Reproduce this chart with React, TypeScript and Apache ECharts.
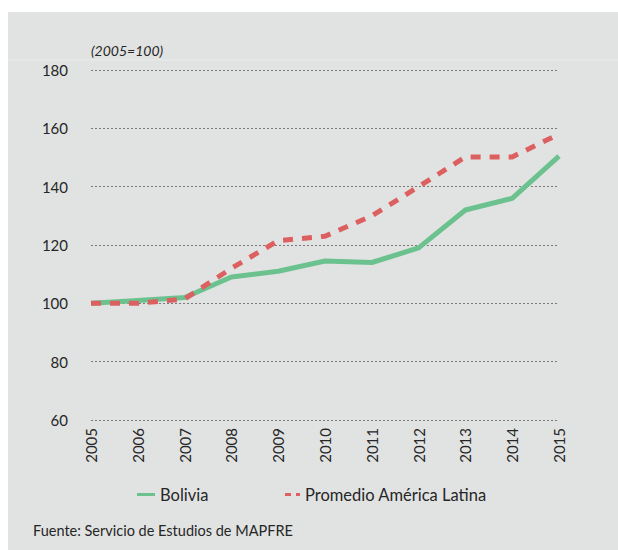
import React, { useEffect, useRef } from "react";
import * as echarts from "echarts";

const years = ["2005", "2006", "2007", "2008", "2009", "2010", "2011", "2012", "2013", "2014", "2015"];
const bolivia = [100, 101, 102, 109, 111, 114.5, 114, 119, 132, 136, 150.5];
const promedio = [100, 100, 101.5, 112, 121.5, 123, 130, 140, 150.2, 150.2, 158];
const yTicks = { min: 60, max: 180, interval: 20 };

const FONT = "Lato, 'Open Sans', sans-serif";
const TEXT = "#262626";

export default function App() {
  const ref = useRef<HTMLDivElement>(null);
  useEffect(() => {
    const chart = echarts.init(ref.current!, null, { renderer: "svg" });
    chart.setOption({
      animation: false,
      backgroundColor: "#ffffff",
      textStyle: { fontFamily: FONT },
      graphic: [
        { type: "rect", z: -10, shape: { x: 8, y: 12, width: 610, height: 538 }, style: { fill: "#e1e3e2" } },
        { type: "line", z: -9, shape: { x1: 8, y1: 60, x2: 618, y2: 60 }, style: { stroke: "#ebeded", lineWidth: 1 } },
        { type: "text", left: 91, top: 43, style: { text: "(2005=100)", fontSize: 14, fontStyle: "italic", fill: TEXT, fontFamily: FONT } },
        { type: "text", left: 33, top: 523, style: { text: "Fuente: Servicio de Estudios de MAPFRE", fontSize: 14.5, fill: TEXT, fontFamily: FONT } },
      ],
      grid: { left: 91, right: 59, top: 70, bottom: 130, containLabel: false },
      legend: [
        {
          data: [{ name: "Bolivia", icon: "path://M0,0H18V3H0Z" }], left: 132, top: 481, itemWidth: 18, itemHeight: 3, itemGap: 8,
          textStyle: { fontSize: 16.5, color: TEXT, fontFamily: FONT },
        },
        {
          data: [{ name: "Promedio América Latina", icon: "path://M0,0H6V3H0Z M11,0H15V3H11Z" }], left: 280, top: 481, itemWidth: 15, itemHeight: 3,
          textStyle: { fontSize: 16.5, color: TEXT, fontFamily: FONT },
        },
      ],
      xAxis: {
        type: "category",
        data: years,
        boundaryGap: false,
        axisLine: { show: false },
        axisTick: { show: false },
        axisLabel: { rotate: 90, fontSize: 15, color: TEXT, margin: 8, fontFamily: FONT },
        splitLine: { show: false },
      },
      yAxis: {
        type: "value",
        min: yTicks.min,
        max: yTicks.max,
        interval: yTicks.interval,
        axisLine: { show: false },
        axisTick: { show: false },
        axisLabel: { fontSize: 15, color: TEXT, margin: 23, fontFamily: FONT },
        splitLine: { lineStyle: { color: "#7a7a7a", type: [2, 2], width: 1 } },
      },
      series: [
        {
          name: "Bolivia", type: "line", data: bolivia, symbol: "none",
          lineStyle: { color: "#6cc28f", width: 5 }, itemStyle: { color: "#6cc28f" }, z: 2,
        },
        {
          name: "Promedio América Latina", type: "line", data: promedio, symbol: "none",
          lineStyle: { color: "#dd6060", width: 5, type: [10, 9] }, itemStyle: { color: "#dd6060" }, z: 3,
        },
      ],
    });
    return () => chart.dispose();
  }, []);
  return <div ref={ref} style={{ position: "absolute", left: 0, top: 0, width: 618, height: 550 }} />;
}
